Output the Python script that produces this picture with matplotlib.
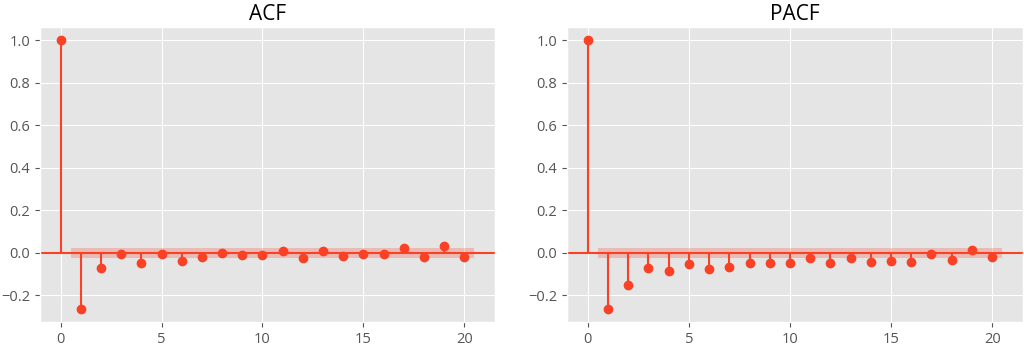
import numpy as np
import matplotlib
matplotlib.use("Agg")
import matplotlib.pyplot as plt

plt.style.use("ggplot")
plt.rcParams['font.family'] = ['Open Sans', 'DejaVu Sans']

lags = list(range(21))
acf_vals = [1.0, -0.262, -0.072, -0.005, -0.047, -0.003, -0.039, -0.019, 0.0, -0.009,
            -0.009, 0.009, -0.023, 0.009, -0.016, -0.006, -0.006, 0.023, -0.019, 0.033, -0.019]
pacf_vals = [1.0, -0.262, -0.150, -0.070, -0.084, -0.053, -0.075, -0.067, -0.048, -0.048,
             -0.048, -0.025, -0.048, -0.025, -0.042, -0.039, -0.042, -0.006, -0.031, 0.014, -0.019]
acf_conf = 0.022
pacf_conf = 0.022
titles = ["ACF", "PACF"]

color = '#fa4126'

fig = plt.figure(figsize=(10.24, 3.45), dpi=100)
ax1 = fig.add_axes([40/1024, 23/345, 455/1024, 295/345])
ax2 = fig.add_axes([567/1024, 23/345, 456/1024, 295/345])

for ax, vals, conf, title in [(ax1, acf_vals, acf_conf, titles[0]), (ax2, pacf_vals, pacf_conf, titles[1])]:
    x = np.array(lags, dtype=float)
    y = np.array(vals)
    ax.vlines(x, 0, y, colors=color, linewidth=1.5)
    ax.axhline(0, color=color, linewidth=1.5)
    ax.plot(x, y, marker='o', markersize=6, linestyle='None', color=color)
    bx = x[1:].copy()
    bx[0] -= 0.5
    bx[-1] += 0.5
    ax.fill_between(bx, -conf, conf, color=color, alpha=0.25, linewidth=0)
    ax.margins(0.05)
    ax.set_title(title, fontsize=15, color='black', pad=5)
    ax.set_xticks([0, 5, 10, 15, 20])
    ax.set_yticks([-0.2, 0.0, 0.2, 0.4, 0.6, 0.8, 1.0])
    ax.tick_params(labelsize=10.5)

fig.savefig("out.png", dpi=100)
